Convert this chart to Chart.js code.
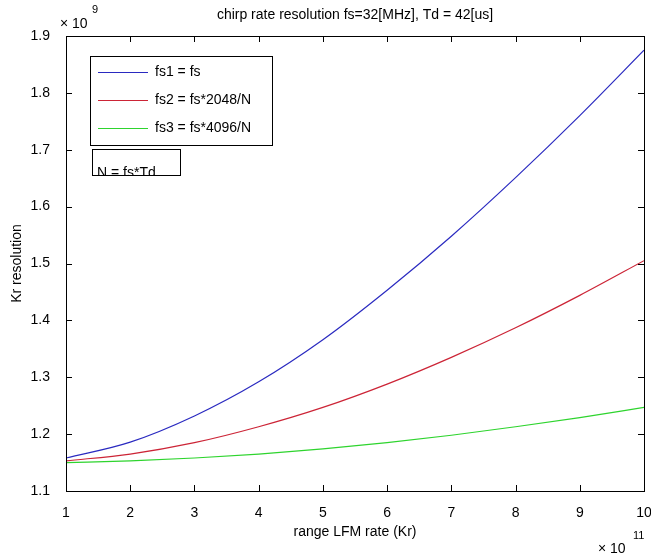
<!DOCTYPE html>
<html>
<head>
<meta charset="UTF-8">
<title>chirp rate resolution</title>
<script src="https://cdn.jsdelivr.net/npm/chart.js@4.4.0/dist/chart.umd.min.js"></script>
<style>
    body { margin: 0; background: #fff; }
    #chartKr { display: block; }
</style>
</head>
<body>
<canvas id="chartKr" width="651" height="559"></canvas>
<script>
    // range LFM rate (x 10^11)
    var kr = [1, 2, 3, 4, 5, 6, 7, 8, 9, 10];
    // Kr resolution (x 10^9) for each sampling rate
    var fs1Res = [1.158, 1.186, 1.232, 1.292, 1.366, 1.453, 1.548, 1.651, 1.760, 1.875];
    var fs2Res = [1.153, 1.165, 1.185, 1.213, 1.247, 1.288, 1.335, 1.387, 1.444, 1.505];
    var fs3Res = [1.150, 1.153, 1.158, 1.165, 1.174, 1.185, 1.198, 1.213, 1.229, 1.247];

    var legendLabels = ['fs1 = fs', 'fs2 = fs*2048/N', 'fs3 = fs*4096/N'];
    var lineColors = ['#2a2ac0', '#cc2436', '#2ed42e'];
    var fontFam = "'Liberation Sans', Arial, sans-serif";

    Chart.defaults.color = '#000';
    Chart.defaults.font.family = fontFam;
    Chart.defaults.font.size = 14;

    function pontos(ys) {
        return kr.map(function (x, i) { return { x: x, y: ys[i] }; });
    }

    // caixa, ticks para dentro, titulo, legenda
    var matlabLook = {
        id: 'matlabLook',
        afterDraw: function (chart) {
            var ctx = chart.ctx;
            var a = chart.chartArea;
            var sx = chart.scales.x, sy = chart.scales.y;
            ctx.save();
            ctx.strokeStyle = '#000';
            ctx.lineWidth = 1;
            ctx.strokeRect(a.left + 0.5, a.top + 0.5, a.right - a.left, a.bottom - a.top);

            ctx.beginPath();
            sx.ticks.forEach(function (t) {
                var px = Math.round(sx.getPixelForValue(t.value)) + 0.5;
                ctx.moveTo(px, a.bottom); ctx.lineTo(px, a.bottom - 6);
                ctx.moveTo(px, a.top); ctx.lineTo(px, a.top + 6);
            });
            sy.ticks.forEach(function (t) {
                var py = Math.round(sy.getPixelForValue(t.value)) + 0.5;
                ctx.moveTo(a.left, py); ctx.lineTo(a.left + 6, py);
                ctx.moveTo(a.right, py); ctx.lineTo(a.right - 6, py);
            });
            ctx.stroke();

            ctx.fillStyle = '#000';
            ctx.font = '14px ' + fontFam;
            ctx.textAlign = 'center';
            ctx.textBaseline = 'middle';
            ctx.fillText('chirp rate resolution fs=32[MHz], Td = 42[us]', (a.left + a.right) / 2, 15);
            ctx.fillText('range LFM rate (Kr)', (a.left + a.right) / 2, 532);

            ctx.save();
            ctx.translate(17, (a.top + a.bottom) / 2);
            ctx.rotate(-Math.PI / 2);
            ctx.fillText('Kr resolution', 0, 0);
            ctx.restore();

            // expoentes
            ctx.textAlign = 'left';
            ctx.textBaseline = 'alphabetic';
            ctx.fillText('\u00d7 10', 60, 28);
            ctx.fillText('\u00d7 10', 598, 553);
            ctx.font = '11px ' + fontFam;
            ctx.fillText('9', 92, 13);
            ctx.fillText('11', 633, 539);

            // legenda
            ctx.fillStyle = '#fff';
            ctx.fillRect(90.5, 56.5, 182, 89);
            ctx.strokeRect(90.5, 56.5, 182, 89);
            ctx.font = '14px ' + fontFam;
            legendLabels.forEach(function (lbl, i) {
                var y = 72 + i * 28;
                ctx.strokeStyle = lineColors[i];
                ctx.beginPath();
                ctx.moveTo(98, y + 0.5); ctx.lineTo(148, y + 0.5);
                ctx.stroke();
                ctx.fillStyle = '#000';
                ctx.textBaseline = 'middle';
                ctx.fillText(lbl, 155, y);
            });

            // caixa N = fs*Td (texto cortado pela borda inferior)
            ctx.fillStyle = '#fff';
            ctx.fillRect(92.5, 149.5, 88, 26);
            ctx.save();
            ctx.beginPath();
            ctx.rect(92, 149, 90, 27);
            ctx.clip();
            ctx.fillStyle = '#000';
            ctx.textBaseline = 'alphabetic';
            ctx.fillText('N = fs*Td', 97, 177);
            ctx.restore();
            ctx.strokeStyle = '#000';
            ctx.strokeRect(92.5, 149.5, 88, 26);
            ctx.restore();
        }
    };

    var chartKr = new Chart(document.getElementById('chartKr').getContext('2d'), {
        type: 'line',
        data: {
            datasets: [fs1Res, fs2Res, fs3Res].map(function (ys, i) {
                return {
                    label: legendLabels[i],
                    data: pontos(ys),
                    borderColor: lineColors[i],
                    borderWidth: 1.2,
                    pointRadius: 0,
                    fill: false,
                    cubicInterpolationMode: 'monotone'
                };
            })
        },
        options: {
            responsive: false,
            animation: false,
            devicePixelRatio: 1,
            layout: { padding: { left: 0, right: 7, top: 36, bottom: 0 } },
            plugins: {
                legend: { display: false },
                title: { display: false },
                tooltip: { enabled: false }
            },
            scales: {
                x: {
                    type: 'linear',
                    min: 1,
                    max: 10,
                    grid: { display: false },
                    border: { display: false },
                    ticks: { stepSize: 1, padding: 6, maxRotation: 0, callback: function (v) { return v; } },
                    afterFit: function (s) { s.height = 68; s.paddingLeft = 0; s.paddingRight = 0; }
                },
                y: {
                    type: 'linear',
                    min: 1.1,
                    max: 1.9,
                    grid: { display: false },
                    border: { display: false },
                    ticks: { stepSize: 0.1, padding: 8, callback: function (v) { return v.toFixed(1); } },
                    afterFit: function (s) { s.width = 66; s.paddingTop = 0; s.paddingBottom = 0; }
                }
            }
        },
        plugins: [matlabLook]
    });
</script>
</body>
</html>
